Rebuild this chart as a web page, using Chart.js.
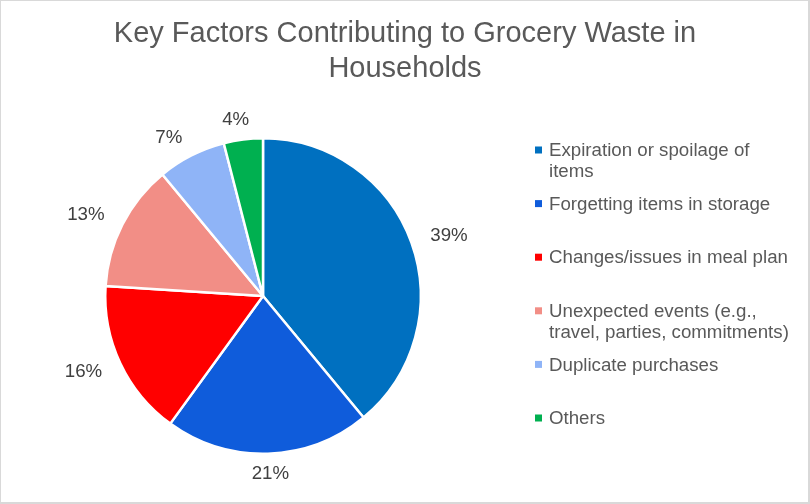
<!DOCTYPE html>
<html>
<head>
<meta charset="utf-8">
<script src="https://cdn.jsdelivr.net/npm/chart.js@4.4.0/dist/chart.umd.min.js"></script>
<style>
  html, body { margin: 0; padding: 0; background: #fff; }
  #wrap { width: 810px; height: 504px; position: relative; }
</style>
</head>
<body>
<div id="wrap"><canvas id="wasteChart" width="810" height="504"></canvas></div>
<script>
const titleLines = ["Key Factors Contributing to Grocery Waste in", "Households"];
const categories = [
  "Expiration or spoilage of items",
  "Forgetting items in storage",
  "Changes/issues in meal plan",
  "Unexpected events (e.g., travel, parties, commitments)",
  "Duplicate purchases",
  "Others"
];
const shares = [39, 21, 16, 13, 7, 4];
const sliceColors = ["#0070C0", "#0F5CDB", "#FF0000", "#F28E86", "#8FB4F7", "#00B050"];

const FONT = "'Liberation Sans', Arial, sans-serif";

function wrapText(ctx, text, maxWidth) {
  const words = text.split(" ");
  const lines = [];
  let line = "";
  words.forEach(w => {
    const test = line ? line + " " + w : w;
    if (ctx.measureText(test).width > maxWidth && line) {
      lines.push(line);
      line = w;
    } else {
      line = test;
    }
  });
  if (line) lines.push(line);
  return lines;
}

// title, outside-end percentage labels, right-hand legend, chart border
const extras = {
  id: "extras",
  beforeDraw(chart) {
    const ctx = chart.ctx;
    ctx.save();
    ctx.strokeStyle = "#D9D9D9";
    ctx.lineWidth = 2;
    ctx.strokeRect(0, 0, 809, 503);
    ctx.restore();
  },
  afterDraw(chart) {
    const ctx = chart.ctx;
    const meta = chart.getDatasetMeta(0);
    ctx.save();

    // title
    ctx.font = "29px " + FONT;
    ctx.fillStyle = "#595959";
    ctx.textAlign = "center";
    ctx.textBaseline = "middle";
    titleLines.forEach((t, i) => ctx.fillText(t, 405, 34 + i * 35));

    // data labels, pushed sideways by half their width like Excel's outside end
    ctx.font = "18.7px " + FONT;
    ctx.fillStyle = "#404040";
    meta.data.forEach((arc, i) => {
      const mid = (arc.startAngle + arc.endAngle) / 2;
      const txt = shares[i] + "%";
      const w = ctx.measureText(txt).width;
      const c = Math.cos(mid), s = Math.sin(mid);
      const d = arc.outerRadius + 20;
      const side = Math.sign(c) * (w / 2) * Math.min(1, 3 * Math.abs(c));
      ctx.fillText(txt, arc.x + c * d + side, arc.y + s * d);
    });

    // legend
    ctx.font = "18.7px " + FONT;
    ctx.textAlign = "left";
    const legendX = 535, legendY = 150, step = 53.6, lineH = 21;
    categories.forEach((name, i) => {
      const y = legendY + i * step;
      ctx.fillStyle = sliceColors[i];
      ctx.fillRect(legendX, y - 3.5, 7, 7);
      ctx.fillStyle = "#595959";
      wrapText(ctx, name, 245).forEach((ln, k) => {
        ctx.fillText(ln, legendX + 14, y + 1 + k * lineH);
      });
    });
    ctx.restore();
  }
};

new Chart(document.getElementById("wasteChart"), {
  type: "pie",
  data: {
    labels: categories,
    datasets: [{
      data: shares,
      backgroundColor: sliceColors,
      borderColor: "#FFFFFF",
      borderWidth: 2.5
    }]
  },
  options: {
    responsive: false,
    animation: false,
    layout: { padding: { left: 104, right: 388, top: 137, bottom: 49 } },
    plugins: {
      legend: { display: false },
      tooltip: { enabled: false },
      title: { display: false }
    }
  },
  plugins: [extras]
});
</script>
</body>
</html>
